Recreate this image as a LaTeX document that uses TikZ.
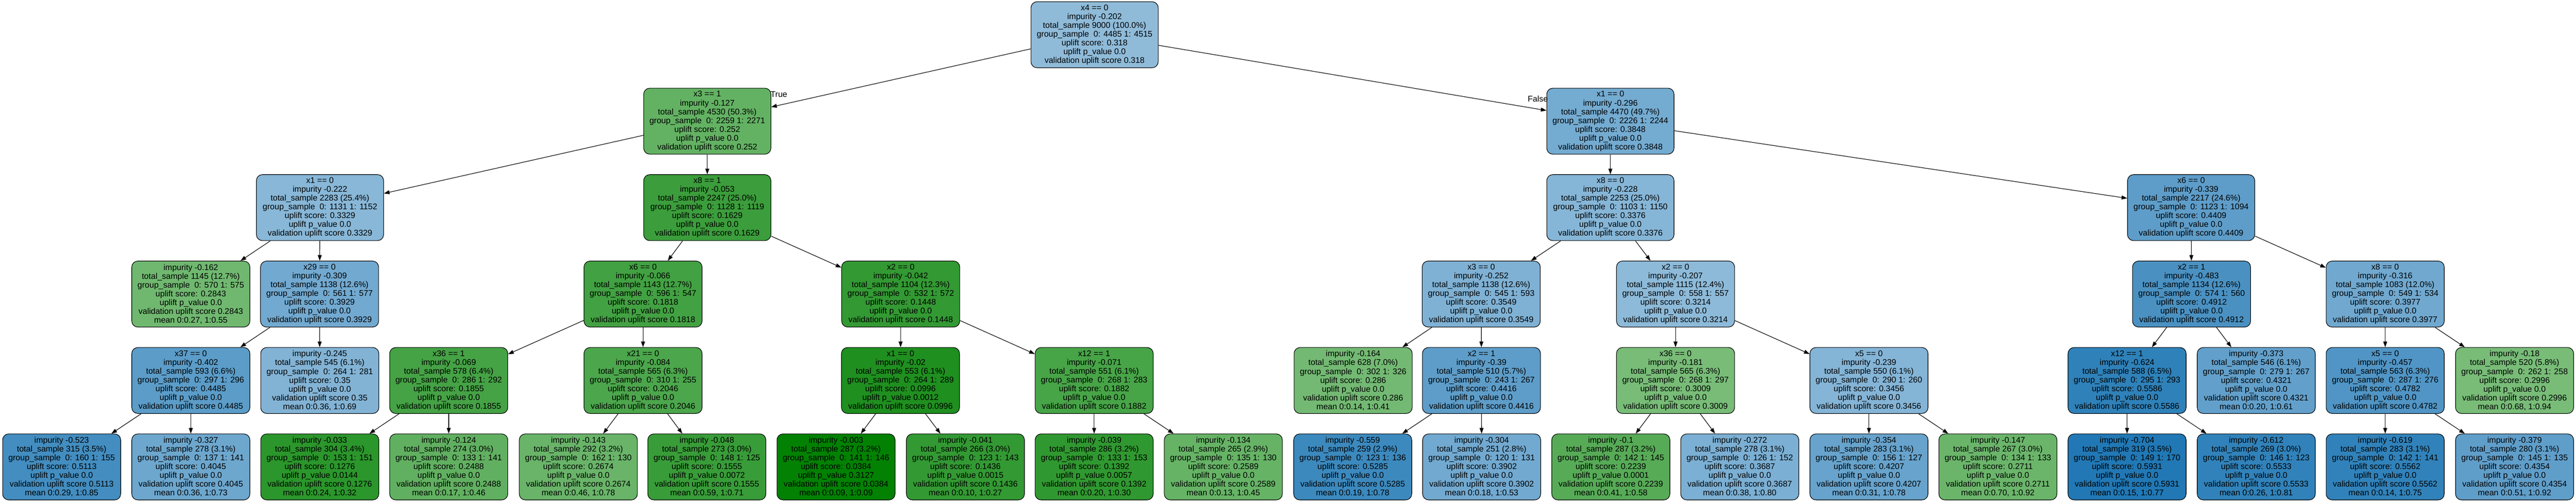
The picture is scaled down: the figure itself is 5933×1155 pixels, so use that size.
\documentclass[tikz,border=0pt]{standalone}
\usepackage{fontspec}
\setmainfont{Liberation Sans}
\usetikzlibrary{arrows.meta}
\definecolor{gbase}{RGB}{0,128,0}
\definecolor{bbase}{RGB}{31,119,180}
\newcommand\nodefont{\fontsize{19}{20.2}\selectfont}
\newcommand\intxt[7]{#1\\impurity #2\\total\_sample #3\\group\_sample~~0: #4 1: #5\\uplift score: #6\\uplift p\_value #7\\validation uplift score #6}
\newcommand\leaftxt[8]{impurity #1\\total\_sample #2\\group\_sample~~0: #3 1: #4\\uplift score: #5\\uplift p\_value #6\\validation uplift score #5\\mean 0:#7, 1:#8}
\tikzset{
  tn/.style={draw=black, line width=1.3pt, rounded corners=14pt, align=center, inner sep=0pt, minimum height=152pt, font=\nodefont},
  wide/.style={tn, minimum width=293pt},
  narrow/.style={tn, minimum width=272pt},
  conn/.style={-{Triangle[length=13pt,width=9pt]}, line width=1.3pt},
  lbl/.style={font=\nodefont, inner sep=0pt}
}
\begin{document}
\begin{tikzpicture}[x=1pt,y=-1pt]
\fill[white] (0,0) rectangle (5933,1155);
\useasboundingbox (0,0) rectangle (5933,1155);
% level 0
\node[wide, fill=white!50!bbase] (r) at (2521,80) {\intxt{x4 == 0}{-0.202}{9000 (100.0\%)}{4485}{4515}{0.318}{0.0}};
% level 1
\node[wide, fill=white!39!gbase] (a) at (1629,279) {\intxt{x3 == 1}{-0.127}{4530 (50.3\%)}{2259}{2271}{0.252}{0.0}};
\node[wide, fill=white!38!bbase] (b) at (3709,279) {\intxt{x1 == 0}{-0.296}{4470 (49.7\%)}{2226}{2244}{0.3848}{0.0}};
% level 2
\node[wide, fill=white!47!bbase] (aa) at (737,478) {\intxt{x1 == 0}{-0.222}{2283 (25.4\%)}{1131}{1152}{0.3329}{0.0}};
\node[wide, fill=white!23!gbase] (ab) at (1629,478) {\intxt{x8 == 1}{-0.053}{2247 (25.0\%)}{1128}{1119}{0.1629}{0.0}};
\node[wide, fill=white!46!bbase] (ba) at (3709,478) {\intxt{x8 == 0}{-0.228}{2253 (25.0\%)}{1103}{1150}{0.3376}{0.0}};
\node[wide, fill=white!28!bbase] (bb) at (5046.5,478) {\intxt{x6 == 0}{-0.339}{2217 (24.6\%)}{1123}{1094}{0.4409}{0.0}};
% level 3
\node[narrow, fill=white!44!gbase] (aaa) at (439.5,677) {\leaftxt{-0.162}{1145 (12.7\%)}{570}{575}{0.2843}{0.0}{0.27}{0.55}};
\node[narrow, fill=white!37!bbase] (aab) at (736,677) {\intxt{x29 == 0}{-0.309}{1138 (12.6\%)}{561}{577}{0.3929}{0.0}};
\node[narrow, fill=white!26!gbase] (aba) at (1481,677) {\intxt{x6 == 0}{-0.066}{1143 (12.7\%)}{596}{547}{0.1818}{0.0}};
\node[narrow, fill=white!20!gbase] (abb) at (2074.5,677) {\intxt{x2 == 0}{-0.042}{1104 (12.3\%)}{532}{572}{0.1448}{0.0}};
\node[narrow, fill=white!43!bbase] (baa) at (3411.5,677) {\intxt{x3 == 0}{-0.252}{1138 (12.6\%)}{545}{593}{0.3549}{0.0}};
\node[narrow, fill=white!49!bbase] (bab) at (3859,677) {\intxt{x2 == 0}{-0.207}{1115 (12.4\%)}{558}{557}{0.3214}{0.0}};
\node[narrow, fill=white!19!bbase] (bba) at (5047.5,677) {\intxt{x2 == 1}{-0.483}{1134 (12.6\%)}{574}{560}{0.4912}{0.0}};
\node[narrow, fill=white!36!bbase] (bbb) at (5493.5,677) {\intxt{x8 == 0}{-0.316}{1083 (12.0\%)}{549}{534}{0.3977}{0.0}};
% level 4
\node[narrow, fill=white!27!bbase] (aaba) at (439.5,876) {\intxt{x37 == 0}{-0.402}{593 (6.6\%)}{297}{296}{0.4485}{0.0}};
\node[narrow, fill=white!44!bbase] (aabb) at (736.5,876) {\leaftxt{-0.245}{545 (6.1\%)}{264}{281}{0.35}{0.0}{0.36}{0.69}};
\node[narrow, fill=white!27!gbase] (abaa) at (1033.5,876) {\intxt{x36 == 1}{-0.069}{578 (6.4\%)}{286}{292}{0.1855}{0.0}};
\node[narrow, fill=white!30!gbase] (abab) at (1481,876) {\intxt{x21 == 0}{-0.084}{565 (6.3\%)}{310}{255}{0.2046}{0.0}};
\node[narrow, fill=white!12!gbase] (abba) at (2074,876) {\intxt{x1 == 0}{-0.02}{553 (6.1\%)}{264}{289}{0.0996}{0.0012}};
\node[narrow, fill=white!28!gbase] (abbb) at (2520,876) {\intxt{x12 == 1}{-0.071}{551 (6.1\%)}{268}{283}{0.1882}{0.0}};
\node[narrow, fill=white!45!gbase] (baaa) at (3116.5,876) {\leaftxt{-0.164}{628 (7.0\%)}{302}{326}{0.286}{0.0}{0.14}{0.41}};
\node[narrow, fill=white!28!bbase] (baab) at (3412,876) {\intxt{x2 == 1}{-0.39}{510 (5.7\%)}{243}{267}{0.4416}{0.0}};
\node[narrow, fill=white!47!gbase] (baba) at (3859,876) {\intxt{x36 == 0}{-0.181}{565 (6.3\%)}{268}{297}{0.3009}{0.0}};
\node[narrow, fill=white!45!bbase] (babb) at (4304.5,876) {\intxt{x5 == 0}{-0.239}{550 (6.1\%)}{290}{260}{0.3456}{0.0}};
\node[narrow, fill=white!7!bbase] (bbaa) at (4899,876) {\intxt{x12 == 1}{-0.624}{588 (6.5\%)}{295}{293}{0.5586}{0.0}};
\node[narrow, fill=white!30!bbase] (bbab) at (5196.5,876) {\leaftxt{-0.373}{546 (6.1\%)}{279}{267}{0.4321}{0.0}{0.20}{0.61}};
\node[narrow, fill=white!22!bbase] (bbba) at (5493.5,876) {\intxt{x5 == 0}{-0.457}{563 (6.3\%)}{287}{276}{0.4782}{0.0}};
\node[narrow, fill=white!47!gbase] (bbbb) at (5791.5,876) {\leaftxt{-0.18}{520 (5.8\%)}{262}{258}{0.2996}{0.0}{0.68}{0.94}};
% level 5
\node[narrow, fill=white!16!bbase] (l1) at (142,1075) {\leaftxt{-0.523}{315 (3.5\%)}{160}{155}{0.5113}{0.0}{0.29}{0.85}};
\node[narrow, fill=white!35!bbase] (l2) at (439.5,1075) {\leaftxt{-0.327}{278 (3.1\%)}{137}{141}{0.4045}{0.0}{0.36}{0.73}};
\node[narrow, fill=white!17!gbase] (l3) at (736.5,1075) {\leaftxt{-0.033}{304 (3.4\%)}{153}{151}{0.1276}{0.0144}{0.24}{0.32}};
\node[narrow, fill=white!38!gbase] (l4) at (1033.5,1075) {\leaftxt{-0.124}{274 (3.0\%)}{133}{141}{0.2488}{0.0}{0.17}{0.46}};
\node[narrow, fill=white!41!gbase] (l5) at (1332,1075) {\leaftxt{-0.143}{292 (3.2\%)}{162}{130}{0.2674}{0.0}{0.46}{0.78}};
\node[narrow, fill=white!22!gbase] (l6) at (1628,1075) {\leaftxt{-0.048}{273 (3.0\%)}{148}{125}{0.1555}{0.0072}{0.59}{0.71}};
\node[narrow, fill=white!1!gbase] (l7) at (1925.5,1075) {\leaftxt{-0.003}{287 (3.2\%)}{141}{146}{0.0384}{0.3127}{0.09}{0.09}};
\node[narrow, fill=white!20!gbase] (l8) at (2223.5,1075) {\leaftxt{-0.041}{266 (3.0\%)}{123}{143}{0.1436}{0.0015}{0.10}{0.27}};
\node[narrow, fill=white!19!gbase] (l9) at (2520,1075) {\leaftxt{-0.039}{286 (3.2\%)}{133}{153}{0.1392}{0.0057}{0.20}{0.30}};
\node[narrow, fill=white!40!gbase] (l10) at (2817.5,1075) {\leaftxt{-0.134}{265 (2.9\%)}{135}{130}{0.2589}{0.0}{0.13}{0.45}};
\node[narrow, fill=white!13!bbase] (l11) at (3115.5,1075) {\leaftxt{-0.559}{259 (2.9\%)}{123}{136}{0.5285}{0.0}{0.19}{0.78}};
\node[narrow, fill=white!37!bbase] (l12) at (3412.5,1075) {\leaftxt{-0.304}{251 (2.8\%)}{120}{131}{0.3902}{0.0}{0.18}{0.53}};
\node[narrow, fill=white!34!gbase] (l13) at (3710,1075) {\leaftxt{-0.1}{287 (3.2\%)}{142}{145}{0.2239}{0.0001}{0.41}{0.58}};
\node[narrow, fill=white!41!bbase] (l14) at (4007,1075) {\leaftxt{-0.272}{278 (3.1\%)}{126}{152}{0.3687}{0.0}{0.38}{0.80}};
\node[narrow, fill=white!32!bbase] (l15) at (4304.5,1075) {\leaftxt{-0.354}{283 (3.1\%)}{156}{127}{0.4207}{0.0}{0.31}{0.78}};
\node[narrow, fill=white!42!gbase] (l16) at (4601.5,1075) {\leaftxt{-0.147}{267 (3.0\%)}{134}{133}{0.2711}{0.0}{0.70}{0.92}};
\node[narrow, fill=white!1!bbase] (l17) at (4899,1075) {\leaftxt{-0.704}{319 (3.5\%)}{149}{170}{0.5931}{0.0}{0.15}{0.77}};
\node[narrow, fill=white!8!bbase] (l18) at (5196.5,1075) {\leaftxt{-0.612}{269 (3.0\%)}{146}{123}{0.5533}{0.0}{0.26}{0.81}};
\node[narrow, fill=white!8!bbase] (l19) at (5493.5,1075) {\leaftxt{-0.619}{283 (3.1\%)}{142}{141}{0.5562}{0.0}{0.14}{0.75}};
\node[narrow, fill=white!29!bbase] (l20) at (5791.5,1075) {\leaftxt{-0.379}{280 (3.1\%)}{145}{135}{0.4354}{0.0}{0.51}{0.92}};
% edge labels
\node[lbl] (tl) at (1794,217) {True};
\node[lbl] (fl) at (3542,227) {False};
% connectors
\foreach \p/\c in {r/a, r/b, a/aa, a/ab, b/ba, b/bb,
  aa/aaa, aa/aab, ab/aba, ab/abb, ba/baa, ba/bab, bb/bba, bb/bbb,
  aab/aaba, aab/aabb, aba/abaa, aba/abab, abb/abba, abb/abbb,
  baa/baaa, baa/baab, bab/baba, bab/babb, bba/bbaa, bba/bbab, bbb/bbba, bbb/bbbb,
  aaba/l1, aaba/l2, abaa/l3, abaa/l4, abab/l5, abab/l6, abba/l7, abba/l8,
  abbb/l9, abbb/l10, baab/l11, baab/l12, baba/l13, baba/l14, babb/l15, babb/l16,
  bbaa/l17, bbaa/l18, bbba/l19, bbba/l20}
  \draw[conn] (\p) -- (\c);
\end{tikzpicture}
\end{document}
